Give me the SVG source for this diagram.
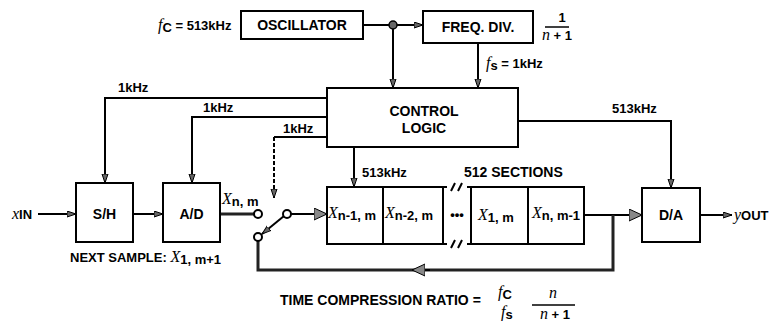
<svg xmlns="http://www.w3.org/2000/svg" width="771" height="324" viewBox="0 0 771 324">
<style>
  .box{fill:#fff;stroke:#000;stroke-width:2}
  .ln{fill:none;stroke:#000;stroke-width:2}
  .thick{fill:none;stroke:#222;stroke-width:3}
  .dash{fill:none;stroke:#000;stroke-width:2;stroke-dasharray:4,2}
  .t{font-family:"Liberation Sans",Arial,sans-serif;font-weight:bold;font-style:normal;font-size:14px;fill:#000}
  .s{font-family:"Liberation Sans",Arial,sans-serif;font-weight:bold;font-style:normal;font-size:13px;fill:#000}
  .v{font-family:"Liberation Serif","Times New Roman",serif;font-style:italic;font-weight:normal;font-size:16px;fill:#000}
  .sub{font-family:"Liberation Sans",Arial,sans-serif;font-weight:bold;font-size:13px;fill:#000;font-style:normal}
  .term{fill:#fff;stroke:#000;stroke-width:2}
</style>
<defs>
  <marker id="sa" markerUnits="userSpaceOnUse" markerWidth="10" markerHeight="8" refX="9" refY="3.5" orient="auto">
    <path d="M0,0.5 L9,3.5 L0,6.5 z" fill="#666" stroke="#000" stroke-width="1"/>
  </marker>
  <marker id="ba" markerUnits="userSpaceOnUse" markerWidth="14" markerHeight="14" refX="13" refY="6.5" orient="auto">
    <path d="M0,0.5 L13,6.5 L0,12.5 z" fill="#888" stroke="#000" stroke-width="1"/>
  </marker>
</defs>
<rect width="771" height="324" fill="#fff"/>

<g id="connectors">
  <line class="ln" x1="363" y1="25" x2="423" y2="25" marker-end="url(#sa)"/>
  <line class="ln" x1="393" y1="25" x2="393" y2="88" marker-end="url(#sa)"/>
  <line class="ln" x1="478" y1="43" x2="478" y2="88" marker-end="url(#sa)"/>
  <polyline class="ln" points="327,98 105,98 105,183" marker-end="url(#sa)"/>
  <polyline class="ln" points="327,117 192,117 192,183" marker-end="url(#sa)"/>
  <line class="ln" x1="327" y1="137" x2="274" y2="137"/>
  <line class="dash" x1="274" y1="137" x2="274" y2="198" marker-end="url(#sa)"/>
  <polyline class="ln" points="518,121 671,121 671,188" marker-end="url(#sa)"/>
  <line class="ln" x1="354" y1="147" x2="354" y2="187" marker-end="url(#sa)"/>
  <line class="ln" x1="38" y1="214" x2="76" y2="214" marker-end="url(#sa)"/>
  <line class="ln" x1="133" y1="214" x2="163" y2="214" marker-end="url(#sa)"/>
  <line class="thick" x1="220" y1="214" x2="254" y2="214"/>
  <line class="ln" x1="284" y1="216" x2="262" y2="234" marker-end="url(#sa)"/>
  <line class="ln" x1="291" y1="214" x2="327" y2="214" marker-end="url(#ba)"/>
  <line class="ln" x1="584" y1="215" x2="642" y2="215" marker-end="url(#ba)"/>
  <polyline class="thick" points="613,215 613,270 258,270 258,241"/>
  <line class="ln" x1="430" y1="270" x2="412" y2="270" marker-end="url(#ba)"/>
  <line class="ln" x1="700" y1="215" x2="732" y2="215" marker-end="url(#sa)"/>
  <circle cx="393" cy="25" r="4" fill="#666" stroke="#000" stroke-width="1.5"/>
  <circle class="term" cx="258" cy="214" r="4"/>
  <circle class="term" cx="287" cy="214" r="4"/>
  <circle class="term" cx="258" cy="237" r="4"/>
</g>

<g id="fc-label">
  <text x="158" y="30" class="v">f<tspan class="sub" font-size="11" dy="2">C</tspan><tspan class="s" dy="-2"> = 513kHz</tspan></text>
</g>

<g id="oscillator">
  <rect class="box" x="241" y="11" width="122" height="28"/>
  <text x="302" y="30" class="t" text-anchor="middle">OSCILLATOR</text>
</g>

<g id="freq-div">
  <rect class="box" x="423" y="11" width="110" height="32"/>
  <text x="478" y="32" class="t" text-anchor="middle">FREQ. DIV.</text>
  <text x="562" y="22" class="s" text-anchor="middle">1</text>
  <line x1="545" y1="27" x2="569" y2="27" stroke="#000" stroke-width="1.5"/>
  <text x="557" y="40" class="v" text-anchor="middle" font-size="15">n<tspan class="s"> + 1</tspan></text>
  <text x="486" y="68" class="v">f<tspan class="sub" font-size="11" dy="2">s</tspan><tspan class="s" dy="-2"> = 1kHz</tspan></text>
</g>

<g id="control-logic">
  <rect class="box" x="327" y="88" width="191" height="59"/>
  <text x="424" y="116" class="t" text-anchor="middle">CONTROL</text>
  <text x="424" y="133" class="t" text-anchor="middle">LOGIC</text>
  <text x="118" y="92" class="s">1kHz</text>
  <text x="203" y="112" class="s">1kHz</text>
  <text x="283" y="133" class="s">1kHz</text>
  <text x="612" y="113" class="s">513kHz</text>
  <text x="362" y="177" class="s">513kHz</text>
</g>

<g id="input">
  <text x="12" y="219" class="s"><tspan class="v" font-size="14">x</tspan>IN</text>
</g>

<g id="sample-hold">
  <rect class="box" x="76" y="183" width="57" height="59"/>
  <text x="104.5" y="219" class="t" text-anchor="middle">S/H</text>
</g>

<g id="ad">
  <rect class="box" x="163" y="183" width="57" height="59"/>
  <text x="191.5" y="219" class="t" text-anchor="middle">A/D</text>
  <text x="222" y="204" class="v">X<tspan class="sub" dy="2">n, m</tspan></text>
  <text x="70" y="262" class="s">NEXT SAMPLE: <tspan class="v">X</tspan><tspan class="sub" dy="2">1, m+1</tspan></text>
</g>

<g id="shift-register">
  <polyline class="ln" points="447,187 327,187 327,244 447,244"/>
  <polyline class="ln" points="467,187 584,187 584,244 467,244"/>
  <line class="ln" x1="383" y1="187" x2="383" y2="244"/>
  <line class="ln" x1="443" y1="187" x2="443" y2="244"/>
  <line class="ln" x1="471" y1="187" x2="471" y2="244"/>
  <line class="ln" x1="528" y1="187" x2="528" y2="244"/>
  <path class="ln" d="M451,191 L455,183 M458,191 L462,183 M451,248 L455,240 M458,248 L462,240" stroke-width="1.8"/>
  <text x="457" y="219" class="s" text-anchor="middle">•••</text>
  <text x="328" y="218" class="v">X<tspan class="sub" dy="2">n-1, m</tspan></text>
  <text x="385" y="218" class="v">X<tspan class="sub" dy="2">n-2, m</tspan></text>
  <text x="478" y="220" class="v">X<tspan class="sub" dy="2">1, m</tspan></text>
  <text x="532" y="218" class="v">X<tspan class="sub" dy="2">n, m-1</tspan></text>
  <text x="464" y="177" class="t">512 SECTIONS</text>
</g>

<g id="da">
  <rect class="box" x="642" y="188" width="58" height="54"/>
  <text x="671" y="220" class="t" text-anchor="middle">D/A</text>
  <text x="734" y="220" class="s"><tspan class="v" font-size="14">y</tspan>OUT</text>
</g>

<g id="ratio">
  <text x="280" y="305" class="t">TIME COMPRESSION RATIO =</text>
  <text x="498" y="297" class="v">f<tspan class="sub" font-size="11" dy="2">C</tspan></text>
  <text x="501" y="317" class="v">f<tspan class="sub" font-size="11" dy="2">s</tspan></text>
  <text x="553" y="298" class="v" text-anchor="middle" font-size="15">n</text>
  <line x1="532" y1="305" x2="575" y2="305" stroke="#000" stroke-width="1.5"/>
  <text x="555" y="319" class="v" text-anchor="middle" font-size="15">n<tspan class="s"> + 1</tspan></text>
</g>
</svg>
